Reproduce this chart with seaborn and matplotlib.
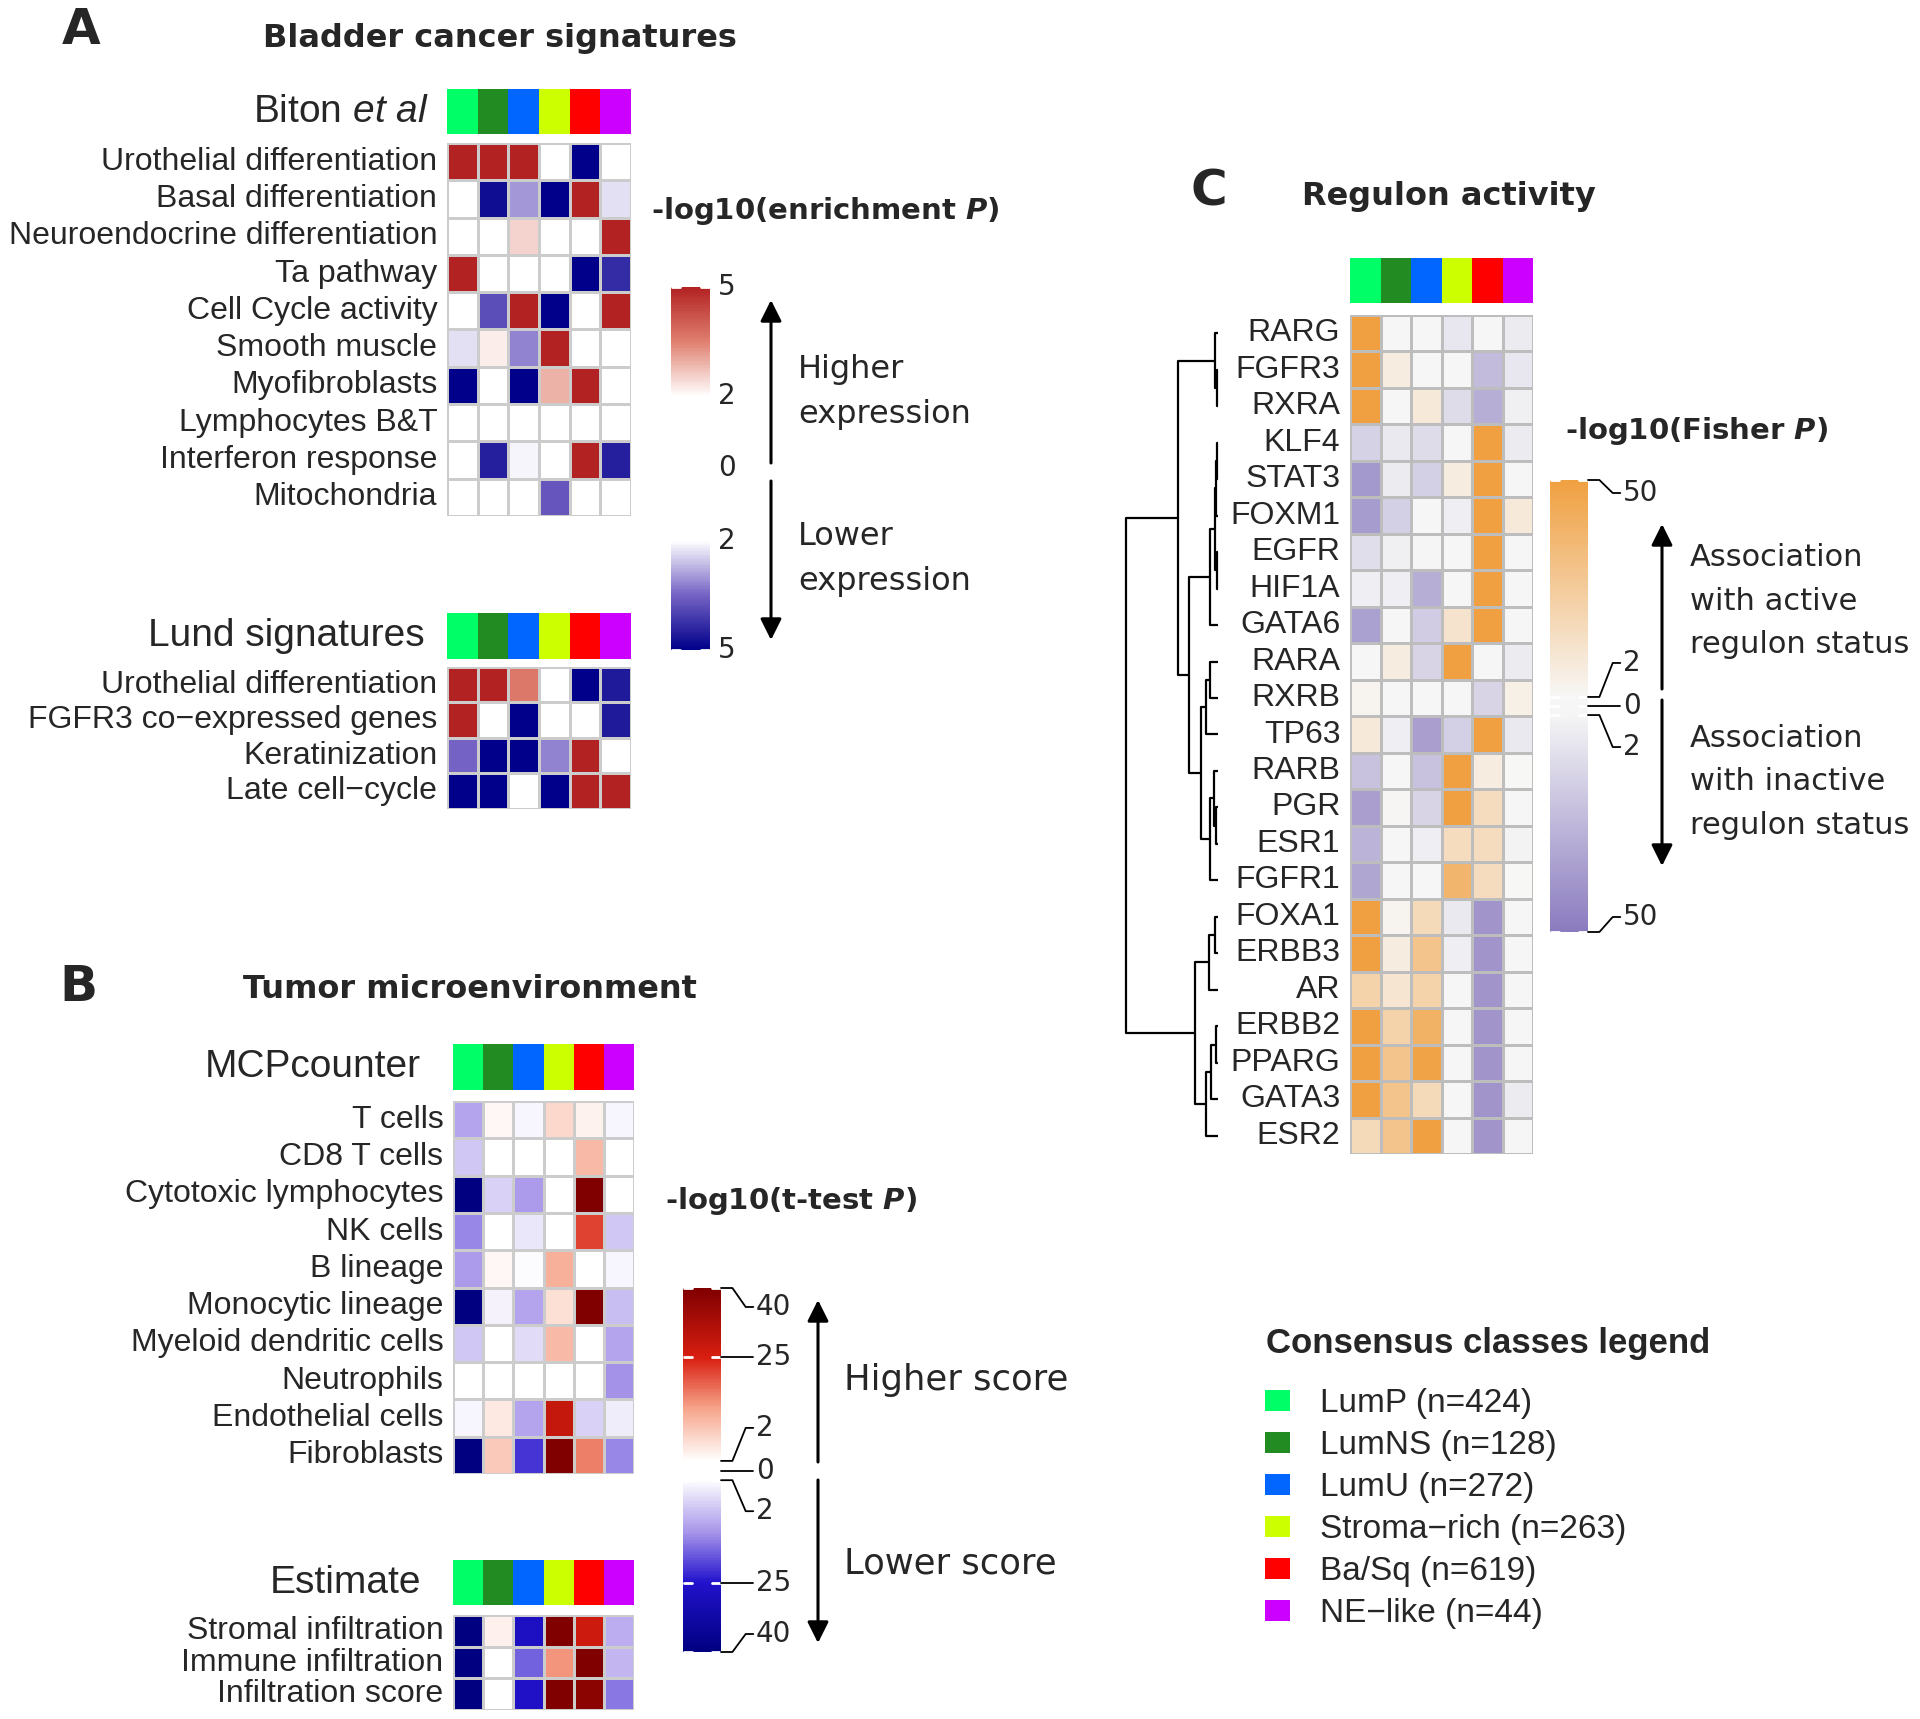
import numpy as np
import pandas as pd
import matplotlib
matplotlib.use('Agg')
import matplotlib.pyplot as plt
import seaborn as sns
from matplotlib.colors import LinearSegmentedColormap, ListedColormap, Normalize, FuncNorm
from matplotlib.cm import ScalarMappable
from matplotlib.patches import Patch

# ---------------- data ----------------
classes = ['LumP', 'LumNS', 'LumU', 'Stroma\u2212rich', 'Ba/Sq', 'NE\u2212like']
class_n = [424, 128, 272, 263, 619, 44]
class_colors = ['#00FF66', '#228B22', '#0066FF', '#CCFF00', '#FF0000', '#CC00FF']

biton_rows = ['Urothelial differentiation', 'Basal differentiation', 'Neuroendocrine differentiation',
              'Ta pathway', 'Cell Cycle activity', 'Smooth muscle', 'Myofibroblasts',
              'Lymphocytes B&T', 'Interferon response', 'Mitochondria']
biton_vals = [[5, 5, 5, 0, -5, 0],
              [0, -4.8, -3.0, -5, 5, -2.3],
              [0, 0, 2.5, 0, 0, 5],
              [5, 0, 0, 0, -5, -4.3],
              [0, -3.8, 5, -5, 0, 5],
              [-2.3, 2.2, -3.2, 5, 0, 0],
              [-5, 0, -5, 2.9, 5, 0],
              [0, 0, 0, 0, 0, 0],
              [0, -4.5, -2.1, 0, 5, -4.5],
              [0, 0, 0, -3.7, 0, 0]]

lund_rows = ['Urothelial differentiation', 'FGFR3 co\u2212expressed genes', 'Keratinization', 'Late cell\u2212cycle']
lund_vals = [[5, 5, 3.6, 0, -5, -4.6],
             [5, 0, -5, 0, 0, -4.6],
             [-3.5, -5, -5, -3.2, 5, 0],
             [-5, -5, 0, -5, 5, 5]]

mcp_rows = ['T cells', 'CD8 T cells', 'Cytotoxic lymphocytes', 'NK cells', 'B lineage',
            'Monocytic lineage', 'Myeloid dendritic cells', 'Neutrophils', 'Endothelial cells', 'Fibroblasts']
mcp_vals = [[-12, 3, -3, 7, 3.5, -3],
            [-8, 0, 0, 0, 11, 0],
            [-40, -7, -13, 0, 40, 0],
            [-15, 0, -4.5, 0, 22, -8],
            [-13, 3, -2.5, 12, 0, -3],
            [-40, -3.5, -12, 6, 40, -9],
            [-8, 0, -6, 11, 0, -12],
            [0, 0, 0, 0, 0, -14],
            [-3, 5, -12, 28, -7, -4],
            [-40, 9, -22, 40, 17, -15]]

est_rows = ['Stromal infiltration', 'Immune infiltration', 'Infiltration score']
est_vals = [[-40, 4, -27, 40, 27, -11],
            [-40, 0, -18, 15, 40, -10],
            [-40, 0, -26, 40, 38, -16]]

reg_rows = ['RARG', 'FGFR3', 'RXRA', 'KLF4', 'STAT3', 'FOXM1', 'EGFR', 'HIF1A', 'GATA6',
            'RARA', 'RXRB', 'TP63', 'RARB', 'PGR', 'ESR1', 'FGFR1', 'FOXA1', 'ERBB3', 'AR',
            'ERBB2', 'PPARG', 'GATA3', 'ESR2']
reg_vals = [[50, 0, 0, -8, 0, -6],
            [50, 8, 0, 0, -25, -8],
            [50, 0, 10, -12, -30, -4],
            [-16, -7, -12, 0, 50, -6],
            [-38, -6, -17, 8, 50, 0],
            [-37, -17, 0, -5, 50, 10],
            [-11, -4, -2, 0, 50, 0],
            [-5, -5, -30, 0, 50, 0],
            [-35, 0, -18, 13, 50, 0],
            [0, 8, -15, 50, 0, -6],
            [4, 0, 0, 0, -15, 6],
            [10, -5, -36, -17, 50, -7],
            [-22, 0, -22, 50, 8, 2],
            [-36, 3, -15, 50, 17, 0],
            [-28, 0, -5, 17, 17, -3],
            [-33, 0, 0, 38, 17, 2],
            [50, 4, 18, -7, -40, 0],
            [50, 8, 30, -5, -40, 0],
            [22, 12, 22, 0, -40, 0],
            [50, 22, 40, 0, -40, 0],
            [50, 30, 48, 0, -40, 0],
            [50, 30, 18, 0, -40, -6],
            [18, 30, 50, 0, -40, 0]]

# dendrogram merges (leaf ids 0..22, merge ids from 23), with merge height
dend_merges = [(1, 2, 1), (0, 23, 3), (3, 4, 1), (25, 5, 2), (6, 7, 1), (26, 27, 3),
               (28, 8, 8), (9, 10, 8), (30, 11, 12), (13, 14, 2), (12, 32, 4), (33, 15, 8),
               (31, 34, 17), (29, 35, 29), (24, 36, 40), (16, 17, 3), (38, 18, 9),
               (19, 20, 2), (40, 21, 7), (41, 22, 12), (39, 42, 23), (37, 43, 92)]

# colour-scale tick values
a_ticks = [5, 2, 0, -2, -5]
b_ticks = [40, 25, 2, 0, -2, -25, -40]
c_ticks = [50, 2, 0, -2, -50]

# ---------------- style ----------------
sns.set_style('white')
plt.rcParams['font.family'] = ['DejaVu Sans']
plt.rcParams['mathtext.fontset'] = 'custom'
plt.rcParams['mathtext.rm'] = 'Liberation Sans'
plt.rcParams['mathtext.it'] = 'Liberation Sans:italic'
plt.rcParams['mathtext.bf'] = 'DejaVu Sans:bold'
plt.rcParams['mathtext.bfit'] = 'DejaVu Sans:italic:bold'
LAB = 'Liberation Sans'

W, H = 1920, 1719
fig = plt.figure(figsize=(W / 100, H / 100), dpi=100)


def px_axes(x0, y0, x1, y1, **kw):
    return fig.add_axes([x0 / W, 1 - y1 / H, (x1 - x0) / W, (y1 - y0) / H], **kw)


# colormaps
cmap_a = LinearSegmentedColormap.from_list('a', [(0, '#00008B'), (0.15, '#7563C4'), (0.3, '#FFFFFF'),
                                                 (0.7, '#FFFFFF'), (0.85, '#E08070'), (1, '#B22222')])
norm_a = Normalize(-5, 5)

b_x = [-40, -25, -2, 2, 25, 40]
b_p = [0, 0.19, 0.472, 0.525, 0.81, 1.0]


def _fwd(v):
    return np.interp(v, b_x, b_p)


def _inv(p):
    return np.interp(p, b_p, b_x)


norm_b = FuncNorm((_fwd, _inv), vmin=-40, vmax=40)
cmap_b = LinearSegmentedColormap.from_list('b', [(0, '#000080'), (0.19, '#2212CC'), (0.33, '#A896EA'),
                                                 (0.472, '#FFFFFF'), (0.525, '#FFFFFF'), (0.67, '#F6A48A'),
                                                 (0.81, '#D81E10'), (1, '#800000')])
cmap_c = LinearSegmentedColormap.from_list('c', [(0, '#8A7BBF'), (0.48, '#F5F5F5'), (0.52, '#F7F7F7'),
                                                 (1, '#F0A040')])
norm_c = Normalize(-50, 50)
cmap_cls = ListedColormap(class_colors)


def heat(ax, vals, rows, cmap, norm, lc='#CCCCCC', fs=23):
    df = pd.DataFrame(vals, index=rows, columns=classes)
    sns.heatmap(df, ax=ax, cmap=cmap, norm=norm, cbar=False, linewidths=2, linecolor=lc,
                xticklabels=False, yticklabels=True)
    ax.set_yticklabels(rows, rotation=0, fontsize=fs, fontfamily=LAB, va='center')
    ax.tick_params(axis='y', length=0, pad=7)
    ax.set_ylabel('')
    ax.set_xlabel('')


def strip(ax, label=None, pad=16):
    df = pd.DataFrame([list(range(len(classes)))], index=[label or ''], columns=classes)
    sns.heatmap(df, ax=ax, cmap=cmap_cls, vmin=-0.5, vmax=5.5, cbar=False,
                xticklabels=False, yticklabels=bool(label))
    if label:
        ax.set_yticklabels([label], rotation=0, fontsize=28, fontfamily=LAB, va='center')
    ax.tick_params(axis='y', length=0, pad=pad)
    ax.set_ylabel('')
    ax.set_xlabel('')


# Panel A
strip(px_axes(447, 89, 631, 134), 'Biton $\\mathit{et\\ al}$', pad=13)
heat(px_axes(447, 143, 631, 516), biton_vals, biton_rows, cmap_a, norm_a)
strip(px_axes(447, 613, 631, 659), 'Lund signatures', pad=16)
heat(px_axes(447, 667, 631, 809), lund_vals, lund_rows, cmap_a, norm_a)

# Panel B
strip(px_axes(453, 1044, 634, 1090), 'MCPcounter', pad=23)
heat(px_axes(453, 1101, 634, 1474), mcp_vals, mcp_rows, cmap_b, norm_b)
strip(px_axes(453, 1560, 634, 1605), 'Estimate', pad=23)
heat(px_axes(453, 1615, 634, 1710), est_vals, est_rows, cmap_b, norm_b)

# Panel C
strip(px_axes(1350, 258, 1533, 303))
heat(px_axes(1350, 315, 1533, 1154), reg_vals, reg_rows, cmap_c, norm_c, lc='#BDBDBD')

# dendrogram
axd = px_axes(1126, 315, 1218, 1154)
n = len(reg_rows)
pos = {i: (0.0, i + 0.5) for i in range(n)}
for k, (a, b, h) in enumerate(dend_merges):
    ha, ya = pos[a]
    hb, yb = pos[b]
    axd.plot([ha, h, h, hb], [ya, ya, yb, yb], color='black', lw=1.6, clip_on=False,
             solid_capstyle='butt')
    pos[n + k] = (h, (ya + yb) / 2)
axd.set_xlim(max(m[2] for m in dend_merges), 0)
axd.set_ylim(n, 0)
axd.axis('off')


# colour bars
def cbar(rect, cmap, norm, ticks, dash_vals, label_off, leaders):
    cax = px_axes(*rect)
    hpx = rect[3] - rect[1]
    sm = ScalarMappable(norm=norm, cmap=cmap)
    cb = fig.colorbar(sm, cax=cax)
    cb.outline.set_visible(False)
    cax.set_yticks([])
    cax.set_yticks([], minor=True)
    for v in dash_vals:
        f = float(norm(v))
        for xs in ([0.02, 0.24], [0.76, 0.98]):
            cax.plot(xs, [f, f], color='white', lw=2, transform=cax.transAxes, clip_on=False)
    for v, off in zip(ticks, label_off):
        f = float(norm(v))
        fl = f + off / hpx
        if leaders:
            cax.plot([1.0, 1.3, 1.65, 1.85], [f, f, fl, fl], color='black', lw=1.3,
                     transform=cax.transAxes, clip_on=False)
            x_lab = 1.92
        else:
            x_lab = 1.2
        cax.text(x_lab, fl, str(abs(v)), transform=cax.transAxes, ha='left', va='center',
                 fontsize=20)
    return cax


cbar((671, 287, 710, 650), cmap_a, norm_a, a_ticks, [5, -5], [0, 0, 0, 0, 0], False)
cbar((683, 1288, 721, 1652), cmap_b, norm_b, b_ticks, [40, 25, 2, -2, -25, -40],
     [-19, 0, 33, 0, -31, 0, 18], True)
cbar((1550, 480, 1588, 932), cmap_c, norm_c, c_ticks, [50, 2, 0, -2, -50],
     [-13, 34, 0, -32, 15], True)

# legend
handles = [Patch(facecolor=c, edgecolor='none') for c in class_colors]
labels = [f'{c} (n={k})' for c, k in zip(classes, class_n)]
fig.legend(handles, labels, loc='upper left', bbox_to_anchor=(1265 / W, 1 - 1388 / H),
           frameon=False, prop={'family': LAB, 'size': 24},
           handlelength=0.75, handleheight=0.6, handletextpad=0.9,
           labelspacing=0.33, borderpad=0, borderaxespad=0)

# overlay for titles, annotations, arrows
ov = fig.add_axes([0, 0, 1, 1], zorder=10)
ov.set_xlim(0, W)
ov.set_ylim(H, 0)
ov.axis('off')
ov.patch.set_alpha(0)

ov.text(1266, 1344, 'Consensus classes legend', fontsize=25, fontweight='bold', fontfamily=LAB,
        ha='left', va='center')

for s, x, y in [('A', 81, 30), ('B', 78, 987), ('C', 1209, 192)]:
    ov.text(x, y, s, fontsize=36, fontweight='bold', ha='center', va='center')
for s, x, y in [('Bladder cancer signatures', 500, 39), ('Tumor microenvironment', 470, 990),
                ('Regulon activity', 1449, 197)]:
    ov.text(x, y, s, fontsize=23, fontweight='bold', ha='center', va='center')
for s, x, y in [('-log10(enrichment $\\mathbfit{P}$)', 651, 211),
                ('-log10(t-test $\\mathbfit{P}$)', 665, 1201),
                ('-log10(Fisher $\\mathbfit{P}$)', 1565, 431)]:
    ov.text(x, y, s, fontsize=21, fontweight='bold', ha='left', va='center')

for s, x, y, fs, ls in [('Higher\nexpression', 798, 392, 23, 1.55), ('Lower\nexpression', 798, 559, 23, 1.55),
                        ('Higher score', 844, 1380, 25.5, 1.4), ('Lower score', 844, 1563, 25.5, 1.4),
                        ('Association\nwith active\nregulon status', 1690, 601, 22, 1.62),
                        ('Association\nwith inactive\nregulon status', 1690, 782, 22, 1.62)]:
    ov.text(x, y, s, fontsize=fs, ha='left', va='center', linespacing=ls)

for x, t, h in [(771, 463, 300), (771, 481, 640), (818, 1462, 1300), (818, 1480, 1643),
                (1662, 689, 524), (1662, 700, 866)]:
    ov.annotate('', xy=(x, h), xytext=(x, t),
                arrowprops=dict(arrowstyle='-|>', lw=2.2, color='black', mutation_scale=32,
                                shrinkA=0, shrinkB=0))

fig.savefig('out.png', dpi=100, facecolor='white')
